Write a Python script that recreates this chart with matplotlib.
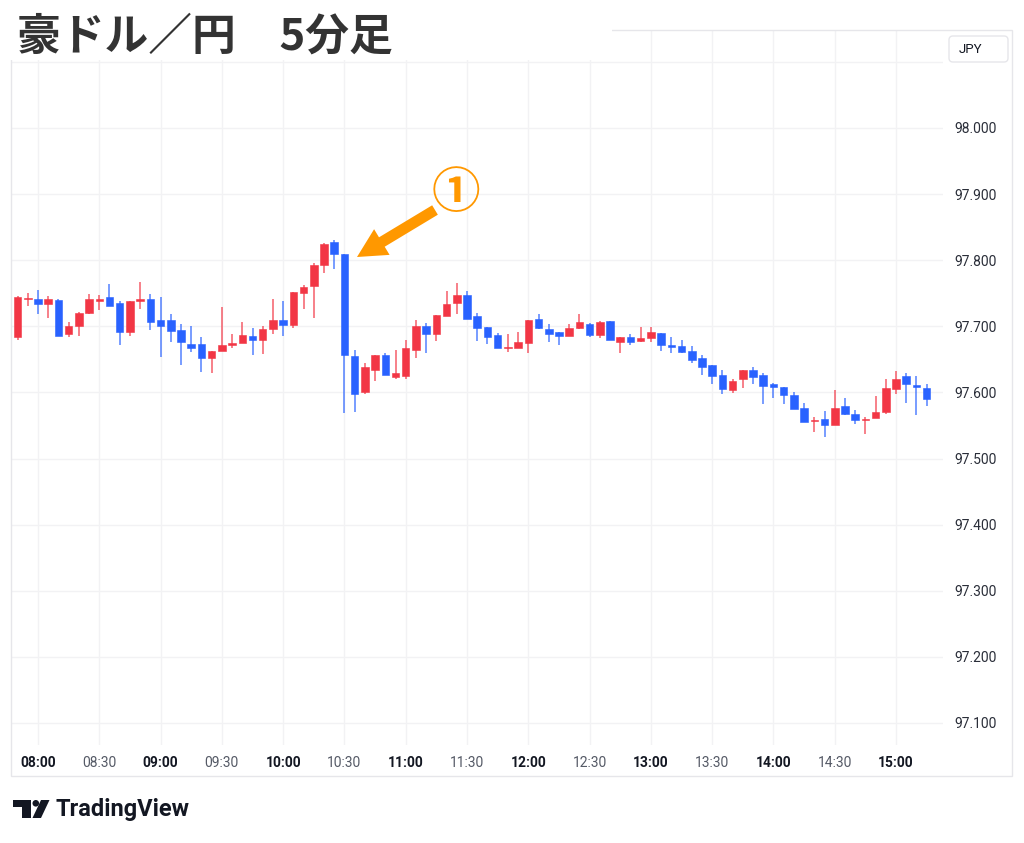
import matplotlib
matplotlib.use("Agg")
import matplotlib.pyplot as plt
from matplotlib.patches import Rectangle, FancyBboxPatch, FancyArrow, Circle, Polygon

plt.rcParams['font.family'] = ['Roboto', 'Noto Sans CJK JP', 'DejaVu Sans']

# ---------------- data ----------------
times = ["07:50", "07:55", "08:00", "08:05", "08:10", "08:15", "08:20", "08:25", "08:30", "08:35",
         "08:40", "08:45", "08:50", "08:55", "09:00", "09:05", "09:10", "09:15", "09:20", "09:25",
         "09:30", "09:35", "09:40", "09:45", "09:50", "09:55", "10:00", "10:05", "10:10", "10:15",
         "10:20", "10:25", "10:30", "10:35", "10:40", "10:45", "10:50", "10:55", "11:00", "11:05",
         "11:10", "11:15", "11:20", "11:25", "11:30", "11:35", "11:40", "11:45", "11:50", "11:55",
         "12:00", "12:05", "12:10", "12:15", "12:20", "12:25", "12:30", "12:35", "12:40", "12:45",
         "12:50", "12:55", "13:00", "13:05", "13:10", "13:15", "13:20", "13:25", "13:30", "13:35",
         "13:40", "13:45", "13:50", "13:55", "14:00", "14:05", "14:10", "14:15", "14:20", "14:25",
         "14:30", "14:35", "14:40", "14:45", "14:50", "14:55", "15:00", "15:05", "15:10", "15:15"]

opens = [97.684, 97.741, 97.741, 97.733, 97.740, 97.689, 97.701, 97.720, 97.738, 97.745,
         97.735, 97.691, 97.738, 97.742, 97.710, 97.710, 97.694, 97.673, 97.673, 97.652,
         97.662, 97.671, 97.675, 97.686, 97.679, 97.696, 97.709, 97.702, 97.750, 97.761,
         97.792, 97.828, 97.809, 97.655, 97.600, 97.634, 97.656, 97.624, 97.625, 97.664,
         97.700, 97.689, 97.716, 97.735, 97.748, 97.715, 97.699, 97.687, 97.667, 97.667,
         97.675, 97.711, 97.696, 97.692, 97.686, 97.698, 97.703, 97.687, 97.708, 97.677,
         97.684, 97.678, 97.682, 97.690, 97.672, 97.670, 97.662, 97.652, 97.641, 97.626,
         97.604, 97.620, 97.634, 97.626, 97.612, 97.608, 97.596, 97.577, 97.557, 97.560,
         97.550, 97.580, 97.568, 97.558, 97.562, 97.571, 97.605, 97.625, 97.611, 97.606]

highs = [97.746, 97.751, 97.755, 97.746, 97.741, 97.707, 97.722, 97.749, 97.747, 97.764,
         97.738, 97.738, 97.767, 97.749, 97.745, 97.718, 97.703, 97.701, 97.684, 97.663,
         97.729, 97.689, 97.707, 97.697, 97.700, 97.741, 97.739, 97.752, 97.762, 97.796,
         97.826, 97.831, 97.809, 97.664, 97.644, 97.657, 97.660, 97.664, 97.680, 97.709,
         97.705, 97.717, 97.753, 97.766, 97.753, 97.720, 97.699, 97.690, 97.688, 97.692,
         97.709, 97.718, 97.703, 97.692, 97.703, 97.718, 97.705, 97.708, 97.708, 97.684,
         97.689, 97.699, 97.699, 97.690, 97.684, 97.679, 97.670, 97.657, 97.641, 97.634,
         97.621, 97.634, 97.638, 97.629, 97.614, 97.608, 97.600, 97.584, 97.563, 97.572,
         97.604, 97.592, 97.573, 97.563, 97.595, 97.621, 97.633, 97.629, 97.625, 97.613]

lows = [97.680, 97.730, 97.719, 97.712, 97.685, 97.684, 97.685, 97.719, 97.725, 97.730,
        97.672, 97.685, 97.726, 97.695, 97.653, 97.677, 97.642, 97.661, 97.631, 97.630,
        97.662, 97.667, 97.675, 97.657, 97.658, 97.689, 97.685, 97.697, 97.726, 97.712,
        97.781, 97.786, 97.569, 97.571, 97.597, 97.617, 97.626, 97.621, 97.620, 97.652,
        97.659, 97.678, 97.716, 97.718, 97.711, 97.678, 97.673, 97.667, 97.661, 97.667,
        97.659, 97.696, 97.677, 97.672, 97.686, 97.696, 97.684, 97.683, 97.679, 97.660,
        97.671, 97.676, 97.677, 97.663, 97.660, 97.659, 97.644, 97.626, 97.613, 97.597,
        97.599, 97.607, 97.613, 97.582, 97.591, 97.582, 97.575, 97.555, 97.540, 97.532,
        97.550, 97.566, 97.552, 97.537, 97.562, 97.568, 97.597, 97.584, 97.566, 97.580]

closes = [97.745, 97.742, 97.733, 97.741, 97.686, 97.700, 97.720, 97.741, 97.742, 97.731,
          97.691, 97.738, 97.742, 97.707, 97.700, 97.693, 97.676, 97.667, 97.652, 97.663,
          97.672, 97.675, 97.687, 97.680, 97.696, 97.709, 97.702, 97.752, 97.760, 97.792,
          97.825, 97.810, 97.656, 97.597, 97.638, 97.656, 97.627, 97.629, 97.667, 97.700,
          97.689, 97.717, 97.733, 97.748, 97.711, 97.698, 97.684, 97.667, 97.668, 97.677,
          97.709, 97.698, 97.688, 97.686, 97.698, 97.706, 97.687, 97.707, 97.679, 97.684,
          97.677, 97.682, 97.691, 97.671, 97.668, 97.661, 97.649, 97.639, 97.625, 97.605,
          97.618, 97.634, 97.624, 97.610, 97.608, 97.596, 97.575, 97.555, 97.559, 97.550,
          97.577, 97.568, 97.559, 97.559, 97.570, 97.606, 97.620, 97.612, 97.608, 97.590]

time_ticks = ["08:00", "08:30", "09:00", "09:30", "10:00", "10:30", "11:00", "11:30",
              "12:00", "12:30", "13:00", "13:30", "14:00", "14:30", "15:00"]
price_ticks = [97.1, 97.2, 97.3, 97.4, 97.5, 97.6, 97.7, 97.8, 97.9, 98.0]
grid_prices = price_ticks + [98.1]

title = "豪ドル／円　5分足"
annotation_label = "①"
currency = "JPY"

# ---------------- style ----------------
UP = "#F23645"
DOWN = "#2962FF"
GRID = "#F2F2F4"
BORDER = "#E6E6EA"
ORANGE = "#FF9800"
W, H = 1024, 843

fig = plt.figure(figsize=(W / 100, H / 100), dpi=100)
fig.patch.set_facecolor("white")

# main chart axes (pixel box: x 11..943, y 30..745)
ax = fig.add_axes([11 / W, 1 - 745 / H, (943 - 11) / W, (745 - 30) / H], zorder=1)
ax.set_facecolor("white")
for s in ax.spines.values():
    s.set_visible(False)

xs = list(range(len(times)))
ax.set_xlim(-0.643, 90.6)
ax.set_ylim(97.0667, 98.1482)

tick_pos = [times.index(t) for t in time_ticks]
for p in tick_pos:
    ax.axvline(p, color=GRID, lw=1, zorder=0)
for gp in grid_prices:
    ax.axhline(gp, color=GRID, lw=1, zorder=0)

# candles
min_body = 0.0014
for x, o, h, l, c in zip(xs, opens, highs, lows, closes):
    col = UP if c >= o else DOWN
    ax.vlines(x, l, h, color=col, lw=1.1, alpha=0.8, zorder=2)
    bottom = min(o, c)
    height = max(abs(c - o), min_body)
    ax.bar(x, height, bottom=bottom, width=0.74, color=col, edgecolor=col,
           linewidth=0.4, zorder=3)

# x ticks
ax.set_xticks(tick_pos)
ax.set_xticklabels(time_ticks)
ax.tick_params(axis="x", length=0, pad=8, labelsize=10)
for lbl, t in zip(ax.get_xticklabels(), time_ticks):
    if t.endswith(":00"):
        lbl.set_fontweight("bold")
        lbl.set_color("#131722")
    else:
        lbl.set_color("#555a66")

# y ticks on right
ax.yaxis.tick_right()
ax.set_yticks(price_ticks)
ax.set_yticklabels([f"{p:.3f}" for p in price_ticks])
ax.tick_params(axis="y", length=0, pad=8, labelsize=10, labelcolor="#2a2e39")

# overlay in pixel coordinates
ov = fig.add_axes([0, 0, 1, 1], zorder=5)
ov.set_xlim(0, W)
ov.set_ylim(H, 0)
ov.axis("off")
ov.patch.set_alpha(0)

# chart frame
ov.add_patch(Rectangle((11, 30), 1012 - 11, 776 - 30, fill=False, edgecolor=BORDER, lw=1, zorder=1))
# title background
ov.add_patch(Rectangle((0, 0), 612, 60, facecolor="white", edgecolor="none", zorder=2))
ov.text(17, 37, title, fontsize=31.5, fontweight="bold", color="#333333",
        family=["Noto Sans CJK JP", "DejaVu Sans"], ha="left", va="center", zorder=3)

# currency box
ov.add_patch(FancyBboxPatch((949, 36), 59, 26, boxstyle="round,pad=0,rounding_size=4",
                            facecolor="white", edgecolor=BORDER, lw=1, zorder=3))
ov.text(959, 49.5, currency, fontsize=9.5, color="#131722", ha="left", va="center", zorder=4)

# annotation arrow
ov.add_patch(FancyArrow(435, 210, 357 - 435, 257 - 210, width=11, head_width=30, head_length=29,
                        length_includes_head=True, color=ORANGE, lw=0, zorder=4))
ov.text(456, 193, annotation_label, fontsize=35, color=ORANGE, fontweight="bold",
        family=["Noto Sans CJK JP", "DejaVu Sans"], ha="center", va="center", zorder=4)

# TradingView logo
ov.add_patch(Rectangle((13, 800), 17.5, 6.5, facecolor="#131722", edgecolor="none"))
ov.add_patch(Rectangle((22, 800), 8.5, 18, facecolor="#131722", edgecolor="none"))
ov.add_patch(Circle((35.8, 803.3), 3.3, facecolor="#131722", edgecolor="none"))
ov.add_patch(Polygon([(41, 800), (49.5, 800), (41, 818), (32.5, 818)], closed=True,
                     facecolor="#131722", edgecolor="none"))
ov.text(55, 809.5, "TradingView", fontsize=17, fontweight="bold", color="#131722",
        ha="left", va="center")

fig.savefig("out.png", dpi=100, facecolor="white")
